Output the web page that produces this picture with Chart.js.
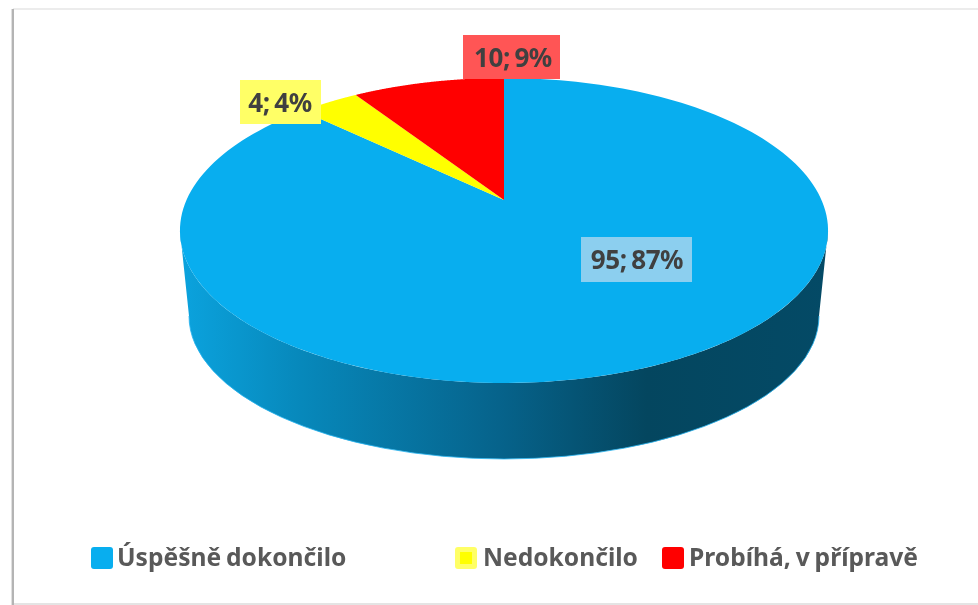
<!DOCTYPE html>
<html><head><meta charset="utf-8">
<style>html,body{margin:0;padding:0;background:#fff}canvas{display:block}</style>
<script src="https://cdn.jsdelivr.net/npm/chart.js@4/dist/chart.umd.min.js"></script>
</head><body><canvas id="c" width="978" height="605"></canvas>
<script>
const categories = ["Úspěšně dokončilo", "Nedokončilo", "Probíhá, v přípravě"];
const counts = [95, 4, 10];
const percents = [87, 4, 9];
const sliceColors = ["#08AEEF", "#FFFF00", "#FF0000"];
const labelFills = ["#8CCFEF", "#FFFF66", "#FF5555"];

const RX = 317.5, BY = 146.4, K = 0.2;
function project(el, a, r) {
  const u = r * Math.cos(a), v = r * Math.sin(a), d = 1 - K * v;
  return [el.x + RX * u / d, el.y + BY * v / d];
}
function slicePath(ctx, el) {
  ctx.beginPath();
  ctx.moveTo(el.x, el.y);
  const n = 180;
  for (let i = 0; i <= n; i++) {
    const a = el.startAngle + (el.endAngle - el.startAngle) * i / n;
    const p = project(el, a, 1);
    ctx.lineTo(p[0], p[1]);
  }
  ctx.closePath();
}
const pie3d = {
  id: 'pie3d',
  beforeDraw(chart) {
    const c = chart.ctx;
    c.save();
    c.fillStyle = '#fff'; c.fillRect(0, 0, 978, 605);
    c.fillStyle = '#ececec'; c.fillRect(13, 8, 965, 2);
    c.fillStyle = '#e4e4e4'; c.fillRect(13, 603, 965, 2);
    c.fillStyle = '#e0e0e0'; c.fillRect(11, 9, 1, 596);
    c.fillStyle = '#b4b4b4'; c.fillRect(12, 9, 2, 596);
    c.restore();
  },
  beforeDatasetsDraw(chart) {
    const c = chart.ctx, arcs = chart.getDatasetMeta(0).data, el = arcs[0];
    // extruded wall of the disc, then the top faces
    c.save();
    const g = c.createLinearGradient(180, 0, 828, 0);
    [[0, '#0BA3DE'], [0.18, '#0789BC'], [0.5, '#06628A'], [0.72, '#04465F'], [1, '#044A66']]
      .forEach(s => g.addColorStop(s[0], s[1]));
    c.beginPath();
    const n = 180, a0 = 0.2, a1 = Math.PI - 0.2;
    for (let i = 0; i <= n; i++) {
      const p = project(el, a0 + (a1 - a0) * i / n, 1);
      if (i === 0) c.moveTo(p[0], p[1]); else c.lineTo(p[0], p[1]);
    }
    c.lineTo(189, 316);
    c.ellipse(504, 316, 315, 143, 0, Math.PI, 0, true);
    c.closePath();
    c.fillStyle = g; c.fill();
    c.beginPath();
    c.ellipse(504, 316, 315, 143, 0, 0, Math.PI);
    c.strokeStyle = 'rgba(40,180,240,0.8)'; c.lineWidth = 1; c.stroke();
    arcs.forEach(a => {
      slicePath(c, a);
      c.fillStyle = a.options.backgroundColor; c.fill();
    });
    c.restore();
    return false;
  },
  afterDraw(chart) {
    const c = chart.ctx;
    c.save();
    const boxes = [[581, 237, 111, 45, 637], [240, 80, 81, 44, 280], [463, 35, 97, 44, 513]];
    c.textBaseline = 'alphabetic';
    counts.forEach((n, i) => {
      const b = boxes[i];
      c.fillStyle = labelFills[i]; c.fillRect(b[0], b[1], b[2], b[3]);
      c.font = 'bold 26px "Noto Sans"'; c.letterSpacing = '-0.4px'; c.wordSpacing = '-2px'; c.textAlign = 'center';
      c.fillStyle = '#404040';
      c.fillText(n + '; ' + percents[i] + '%', b[4], b[1] + 32);
    });
    const keys = [[91, 117], [455, 483], [662, 689]];
    categories.forEach((t, i) => {
      const k = keys[i];
      c.beginPath(); c.roundRect(k[0], 547, 22, 22, 3);
      c.fillStyle = i === 1 ? '#FFFF66' : sliceColors[i]; c.fill();
      if (i === 1) { c.fillStyle = sliceColors[1]; c.fillRect(k[0] + 5, 552, 12, 12); }
      c.font = 'bold 24.6px "Noto Sans"'; c.letterSpacing = '0px'; c.wordSpacing = '-1.5px'; c.textAlign = 'left';
      c.fillStyle = '#595959';
      c.fillText(t, k[1], 566);
    });
    c.restore();
  }
};
new Chart(document.getElementById('c'), {
  type: 'pie',
  data: { labels: categories, datasets: [{ data: counts, backgroundColor: sliceColors, borderWidth: 0 }] },
  options: {
    responsive: false, animation: false,
    layout: { padding: { left: 30, right: 0, top: 0, bottom: 205 } },
    plugins: { legend: { display: false }, tooltip: { enabled: false } }
  },
  plugins: [pie3d]
});
</script></body></html>
